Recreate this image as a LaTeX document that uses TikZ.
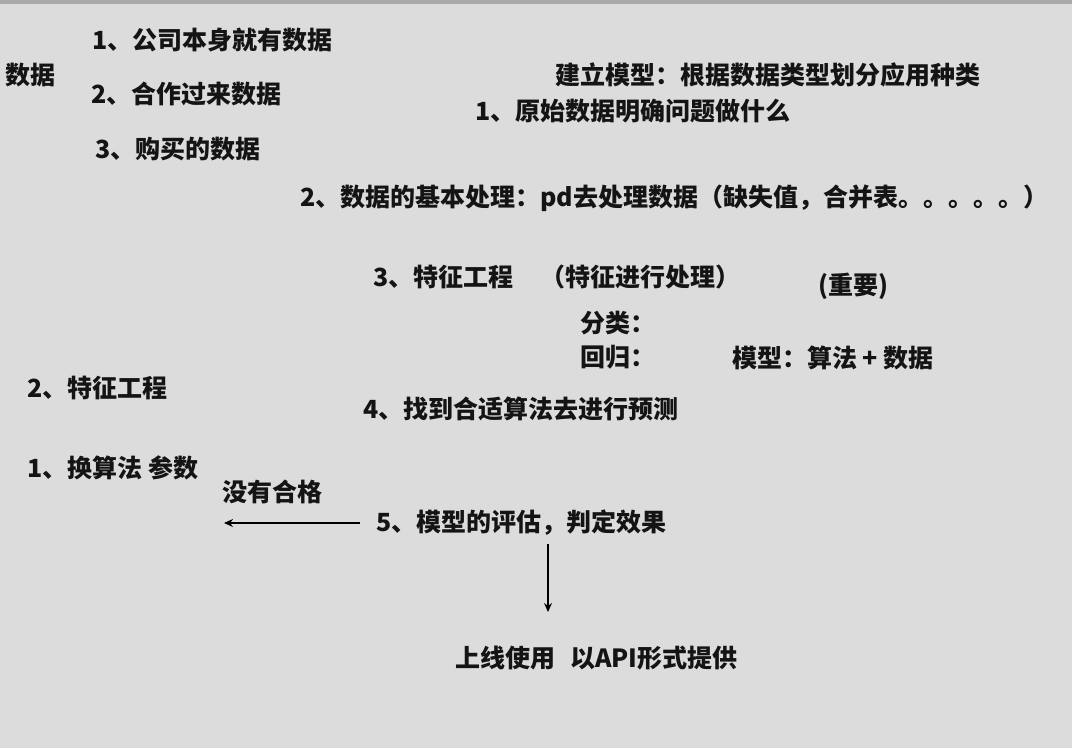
\documentclass[tikz,border=0pt]{standalone}
\usepackage{fontspec}
\newfontfamily\cjk{Noto Sans CJK SC}
\usetikzlibrary{arrows.meta}
\definecolor{bggray}{HTML}{DCDCDC}
\definecolor{bargray}{HTML}{A9A9A9}
\definecolor{ink}{HTML}{141414}
\tikzset{
  txt/.style={anchor=west, inner sep=0pt, text=ink, font=\cjk\bfseries\fontsize{25}{29}\selectfont},
}
\begin{document}
\begin{tikzpicture}[x=1pt, y=-1pt, >={Stealth[length=9pt, width=8pt]}]
  \fill[bggray] (0,0) rectangle (1072,748);
  \fill[bargray] (0,0) rectangle (1072,4);
  \useasboundingbox (0,0) rectangle (1072,748);

  % data sources
  \node[txt] (data) at (5,75) {数据};
  \node[txt] (src1) at (92,40) {1、公司本身就有数据};
  \node[txt] (src2) at (91,94) {2、合作过来数据};
  \node[txt] (src3) at (95,149) {3、购买的数据};

  % modelling steps
  \node[txt] (model) at (555,75) {建立模型：根据数据类型划分应用种类};
  \node[txt] (step1) at (475,111) {1、原始数据明确问题做什么};
  \node[txt] (step2) at (300,198) {2、数据的基本处理：pd去处理数据（缺失值，合并表。。。。。）};
  \node[txt] (step3) at (373,277) {3、特征工程};
  \node[txt] (step3b) at (540,277) {（特征进行处理）};
  \node[txt] (imp) at (818,286) {(重要)};
  \node[txt] (cls) at (580,323) {分类：};
  \node[txt] (reg) at (580,357) {回归：};
  \node[txt] (algo) at (732,358) {模型：算法 + 数据};
  \node[txt] (step4) at (363,409) {4、找到合适算法去进行预测};
  \node[txt] (eval) at (376,523) {5、模型的评估，判定效果};
  \node[txt] (online) at (455,658) {上线使用\hspace{0.6em}以API形式提供};

  % feedback
  \node[txt] (fe) at (27,388) {2、特征工程};
  \node[txt] (swap) at (27,468) {1、换算法 参数};
  \node[txt] (fail) at (222,492) {没有合格};

  \coordinate (back) at (224,523);
  \coordinate (down) at (548,612);
  \draw[->, line width=1.3pt] (eval.west) ++(-16,0) -- (back);
  \draw[->, line width=1.3pt] (eval.south -| down) ++(0,8) -- (down);
\end{tikzpicture}
\end{document}
